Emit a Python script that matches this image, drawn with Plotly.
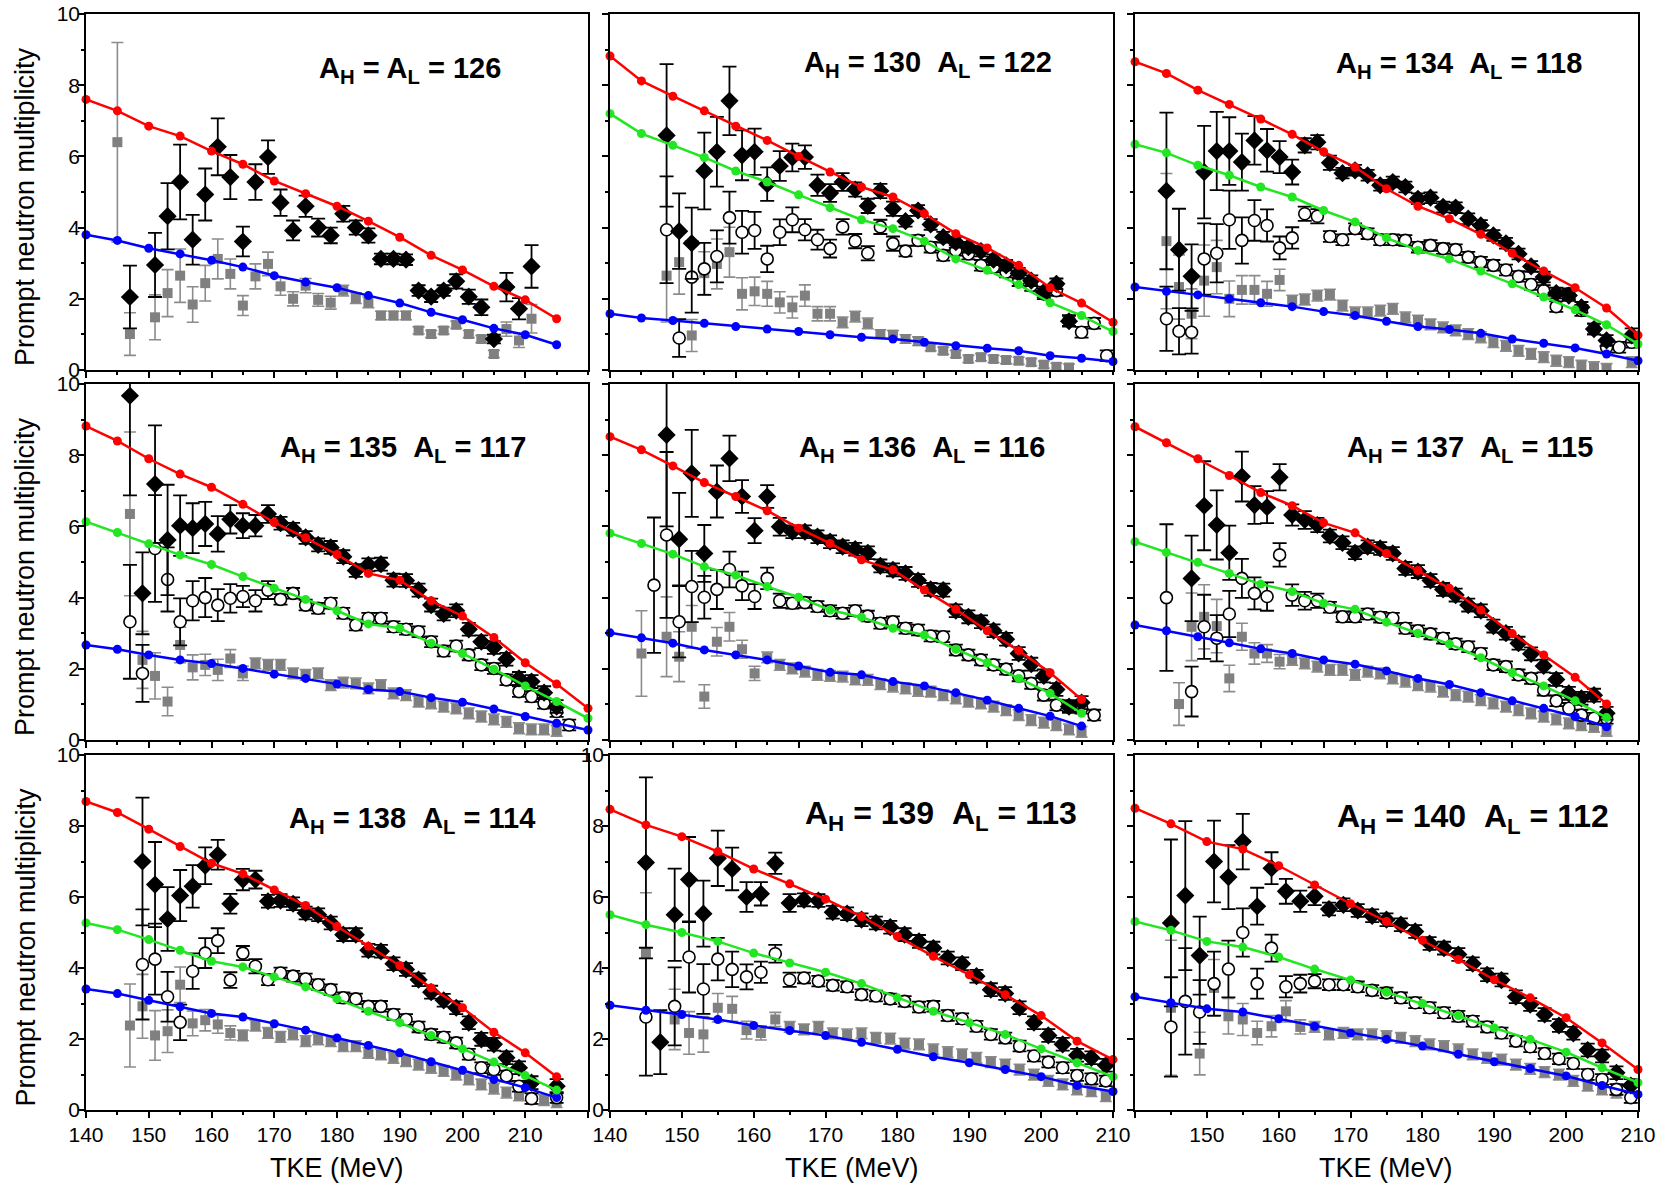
import plotly.graph_objects as go

# ---------------------------------------------------------------------------
# Prompt neutron multiplicity vs. total kinetic energy for nine mass splits.
# nu_tot : total (black diamonds), nu_L : light fragment (open circles),
# nu_H : heavy fragment (grey squares); CALC_* are the model curves.
# ---------------------------------------------------------------------------

# ---- A_H = A_L = 126 -------------------------------------------------------
TKE_126 = [145, 147, 151, 153, 155, 157, 159, 161, 163, 165, 167, 169, 171, 173, 175, 177,
           179, 181, 183, 185, 187, 189, 191, 193, 195, 197, 199, 201, 203, 205, 207, 209, 211]
NU_TOT_126 = [None, 2.05, 2.95, 4.32, 5.28, 3.66, 4.93, 6.27, 5.42, 3.61, 5.28, 5.98, 4.70, 3.92, 4.60, 4.00,
              3.78, 4.39, 4.00, 3.78, 3.12, 3.12, 3.10, 2.23, 2.06, 2.23, 2.49, 2.06, 1.76, 0.87, 2.33, 1.72, 2.91]
DNU_TOT_126 = [None, 0.88, 0.90, 0.93, 1.05, 0.70, 0.73, 0.80, 0.62, 0.42, 0.50, 0.47, 0.37, 0.28, 0.30, 0.25,
               0.22, 0.22, 0.20, 0.20, 0.15, 0.15, 0.15, 0.15, 0.15, 0.15, 0.20, 0.20, 0.22, 0.12, 0.40, 0.30, 0.60]
NU_H_126 = [6.40, 1.01, 1.48, 2.16, 2.65, 1.84, 2.44, 3.12, 2.70, 1.81, 2.63, 2.98, 2.35, 2.00, 2.37, 1.97,
            1.89, 2.23, 2.02, 1.90, 1.53, 1.53, 1.53, 1.11, 1.01, 1.11, 1.27, 1.01, 0.87, 0.45, 1.15, 0.83, 1.44]
DNU_H_126 = [2.80, 0.60, 0.63, 0.66, 0.75, 0.50, 0.50, 0.56, 0.42, 0.28, 0.35, 0.33, 0.25, 0.20, 0.20, 0.18,
             0.18, 0.15, 0.15, 0.15, 0.12, 0.12, 0.12, 0.10, 0.10, 0.10, 0.10, 0.10, 0.10, 0.10, 0.20, 0.20, 0.40]
CALC_TKE_126 = [140, 145, 150, 155, 160, 165, 170, 175, 180, 185, 190, 195, 200, 205, 210, 215]
CALC_TOT_126 = [7.60, 7.28, 6.85, 6.57, 6.15, 5.78, 5.31, 4.95, 4.60, 4.18, 3.73, 3.22, 2.81, 2.35, 1.97, 1.44]
CALC_H_126 = [3.80, 3.64, 3.42, 3.26, 3.08, 2.89, 2.65, 2.47, 2.31, 2.09, 1.88, 1.62, 1.41, 1.17, 0.99, 0.71]

# ---- A_H = 130, A_L = 122 ---------------------------------------------------
TKE_130 = [149, 151, 153, 155, 157, 159, 161, 163, 165, 167, 169, 171, 173, 175, 177, 179, 181, 183,
           185, 187, 189, 191, 193, 195, 197, 199, 201, 203, 205, 207, 209, 211, 213, 215, 217, 219]
NU_TOT_130 = [6.59, 3.90, 3.56, 5.59, 6.13, 7.56, 6.03, 6.13, 5.22, 5.73, 5.97, 5.98, 5.19, 4.97, 5.28, 5.07, 4.61, 5.03,
              4.53, 4.18, 4.48, 4.09, 3.73, 3.59, 3.45, 3.34, 3.10, 2.94, 2.72, 2.51, 2.19, 2.42, 1.37, None, None, None]
DNU_TOT_130 = [2.00, 1.06, 1.00, 1.08, 0.98, 0.96, 0.70, 0.65, 0.47, 0.42, 0.39, 0.33, 0.30, 0.25, 0.25, 0.20, 0.20, 0.20,
               0.20, 0.15, 0.15, 0.15, 0.15, 0.15, 0.15, 0.15, 0.15, 0.15, 0.15, 0.15, 0.15, 0.15, 0.15, None, None, None]
NU_L_130 = [3.94, 0.90, 2.61, 2.84, 3.19, 4.28, 3.87, 3.92, 3.12, 3.87, 4.22, 3.94, 3.66, 3.41, 4.02, 3.62, 3.28, 4.02,
            3.55, 3.34, 3.64, 3.45, 3.22, 3.36, 3.26, 2.94, 2.89, 2.75, 2.51, 2.37, 2.14, 2.23, 1.39, 1.06, 1.31, 0.40]
DNU_L_130 = [1.50, 0.53, 1.00, 0.73, 0.73, 0.73, 0.60, 0.52, 0.37, 0.36, 0.35, 0.30, 0.28, 0.25, 0.22, 0.20, 0.20, 0.20,
             0.20, 0.15, 0.15, 0.15, 0.15, 0.15, 0.15, 0.15, 0.15, 0.15, 0.15, 0.15, 0.15, 0.15, 0.15, 0.15, 0.15, 0.15]
NU_H_130 = [2.65, 3.03, 0.97, 2.72, 2.98, 3.31, 2.14, 2.21, 2.14, 1.90, 1.76, 2.09, 1.58, 1.58, 1.34, 1.50, 1.31, 1.01,
            0.99, 0.87, 0.81, 0.64, 0.54, 0.45, 0.31, 0.36, 0.31, 0.28, 0.26, 0.22, 0.15, 0.09, 0.07, None, None, None]
DNU_H_130 = [1.30, 0.90, 0.45, 0.60, 0.70, 0.70, 0.45, 0.40, 0.35, 0.30, 0.30, 0.30, 0.20, 0.20, 0.15, 0.15, 0.15, 0.12,
             0.12, 0.12, 0.12, 0.10, 0.10, 0.10, 0.10, 0.10, 0.10, 0.10, 0.10, 0.10, 0.10, 0.10, 0.10, None, None, None]
CALC_TKE_130 = [140, 145, 150, 155, 160, 165, 170, 175, 180, 185, 190, 195, 200, 205, 210, 215, 220]
CALC_TOT_130 = [8.82, 8.12, 7.69, 7.28, 6.85, 6.45, 6.00, 5.56, 5.14, 4.86, 4.39, 3.83, 3.43, 2.94, 2.31, 1.88, 1.34]
CALC_L_130 = [7.20, 6.64, 6.31, 5.97, 5.59, 5.28, 4.92, 4.56, 4.22, 3.97, 3.62, 3.12, 2.80, 2.40, 1.89, 1.53, 1.08]
CALC_H_130 = [1.58, 1.46, 1.39, 1.31, 1.22, 1.15, 1.08, 0.99, 0.92, 0.87, 0.78, 0.68, 0.61, 0.54, 0.40, 0.33, 0.24]

# ---- A_H = 134, A_L = 118 ---------------------------------------------------
TKE_134 = [145, 147, 149, 151, 153, 155, 157, 159, 161, 163, 165, 167, 169, 171, 173, 175, 177, 179, 181,
           183, 185, 187, 189, 191, 193, 195, 197, 199, 201, 203, 205, 207, 209, 211, 213, 215, 217, 219]
NU_TOT_134 = [5.03, 3.38, 2.63, 5.56, 6.15, 6.15, 5.84, 6.45, 6.17, 5.98, 5.56, 6.31, 6.40, 5.82, 5.53, 5.61, 5.47, 5.19, 5.28,
              5.14, 4.81, 4.84, 4.58, 4.56, 4.25, 4.06, 3.78, 3.56, 3.26, 2.91, 2.61, 2.16, 2.09, 1.76, 1.15, 0.83, None, 0.97]
DNU_TOT_134 = [2.20, 1.15, 0.90, 1.30, 1.10, 0.95, 0.80, 0.68, 0.60, 0.45, 0.35, 0.20, 0.20, 0.20, 0.15, 0.15, 0.15, 0.15, 0.15,
               0.15, 0.15, 0.15, 0.15, 0.15, 0.15, 0.15, 0.15, 0.15, 0.15, 0.15, 0.15, 0.15, 0.15, 0.15, 0.15, 0.15, None, 0.20]
NU_L_134 = [1.44, 1.09, 1.06, 3.12, 3.28, 4.22, 3.64, 4.20, 4.06, 3.43, 3.71, 4.39, 4.32, 3.75, 3.66, 3.97, 3.83, 3.66, 3.66,
            3.64, 3.45, 3.50, 3.41, 3.38, 3.17, 3.03, 2.94, 2.81, 2.63, 2.40, 2.23, 1.78, 2.14, 1.67, 1.15, 0.64, 0.64, 0.78]
DNU_L_134 = [0.90, 0.65, 0.60, 1.00, 0.82, 0.82, 0.65, 0.57, 0.45, 0.32, 0.30, 0.20, 0.20, 0.15, 0.15, 0.15, 0.15, 0.15, 0.15,
             0.15, 0.15, 0.15, 0.15, 0.15, 0.15, 0.15, 0.15, 0.15, 0.15, 0.15, 0.15, 0.15, 0.15, 0.15, 0.15, 0.15, 0.15, 0.15]
NU_H_134 = [3.62, 2.33, 1.58, 2.51, 2.89, 2.00, 2.25, 2.25, 2.14, 2.53, 1.95, 1.98, 2.09, 2.12, 1.81, 1.62, 1.62, 1.67, 1.72,
            1.48, 1.39, 1.28, 1.20, 1.11, 1.01, 0.92, 0.78, 0.68, 0.54, 0.45, 0.36, 0.26, 0.22, 0.12, 0.08, 0.03, None, 0.22]
DNU_H_134 = [1.90, 0.90, 0.70, 1.00, 0.75, 0.50, 0.40, 0.40, 0.35, 0.30, 0.15, 0.15, 0.15, 0.15, 0.15, 0.15, 0.15, 0.15, 0.15,
             0.15, 0.15, 0.15, 0.15, 0.15, 0.15, 0.15, 0.15, 0.15, 0.15, 0.15, 0.15, 0.15, 0.15, 0.15, 0.15, 0.15, None, 0.15]
CALC_TKE_134 = [140, 145, 150, 155, 160, 165, 170, 175, 180, 185, 190, 195, 200, 205, 210, 215, 220]
CALC_TOT_134 = [8.66, 8.33, 7.86, 7.46, 7.05, 6.62, 6.13, 5.70, 5.09, 4.60, 4.25, 3.81, 3.28, 2.78, 2.31, 1.74, 0.98]
CALC_L_134 = [6.34, 6.10, 5.75, 5.47, 5.14, 4.86, 4.48, 4.16, 3.71, 3.36, 3.12, 2.78, 2.42, 2.05, 1.69, 1.27, 0.73]
CALC_H_134 = [2.33, 2.21, 2.11, 2.00, 1.89, 1.78, 1.64, 1.53, 1.37, 1.22, 1.14, 1.03, 0.87, 0.75, 0.62, 0.45, 0.26]

# ---- A_H = 135, A_L = 117 ---------------------------------------------------
TKE_135 = [147, 149, 151, 153, 155, 157, 159, 161, 163, 165, 167, 169, 171, 173, 175, 177, 179, 181,
           183, 185, 187, 189, 191, 193, 195, 197, 199, 201, 203, 205, 207, 209, 211, 213, 215, 217]
NU_TOT_135 = [9.67, 4.12, 7.19, 5.62, 6.02, 5.95, 6.07, 5.79, 6.20, 6.02, 6.02, 6.35, 6.09, 5.92, 5.69, 5.48, 5.41, 5.15,
              4.76, 4.92, 4.94, 4.49, 4.48, 4.21, 3.79, 3.54, 3.63, 3.11, 2.76, 2.60, 2.27, 1.73, 1.64, 1.33, 0.94, None]
DNU_TOT_135 = [2.80, 1.15, 1.65, 1.55, 0.85, 0.70, 0.62, 0.50, 0.40, 0.35, 0.30, 0.25, 0.18, 0.18, 0.18, 0.18, 0.18, 0.18,
               0.18, 0.18, 0.18, 0.18, 0.18, 0.18, 0.18, 0.18, 0.18, 0.18, 0.18, 0.18, 0.18, 0.18, 0.18, 0.18, 0.18, None]
NU_L_135 = [3.32, 1.87, 5.38, 4.51, 3.32, 3.91, 4.00, 3.79, 3.98, 4.03, 3.91, 4.21, 3.95, 4.12, 3.79, 3.70, 3.84, 3.56,
            3.23, 3.42, 3.42, 3.18, 3.11, 3.04, 2.76, 2.50, 2.64, 2.39, 2.11, 2.01, 1.69, 1.36, 1.22, 1.03, 0.80, 0.42]
DNU_L_135 = [1.60, 0.80, 1.50, 0.90, 0.66, 0.55, 0.55, 0.45, 0.40, 0.30, 0.30, 0.25, 0.15, 0.15, 0.15, 0.15, 0.15, 0.15,
             0.15, 0.15, 0.15, 0.15, 0.15, 0.15, 0.15, 0.15, 0.15, 0.15, 0.15, 0.15, 0.15, 0.15, 0.15, 0.15, 0.15, 0.15]
NU_H_135 = [6.35, 2.25, 1.80, 1.08, 2.67, 2.04, 2.11, 1.97, 2.29, 1.87, 2.15, 2.11, 2.11, 1.87, 1.83, 1.87, 1.54, 1.61,
            1.59, 1.45, 1.54, 1.31, 1.26, 1.08, 1.03, 0.94, 0.89, 0.75, 0.66, 0.58, 0.51, 0.33, 0.30, 0.30, 0.26, None]
DNU_H_135 = [2.30, 0.80, 0.65, 0.40, 0.50, 0.35, 0.30, 0.30, 0.25, 0.20, 0.15, 0.15, 0.15, 0.15, 0.15, 0.15, 0.15, 0.15,
             0.15, 0.15, 0.15, 0.15, 0.15, 0.15, 0.15, 0.15, 0.15, 0.15, 0.15, 0.15, 0.15, 0.15, 0.15, 0.15, 0.15, None]
CALC_TKE_135 = [140, 145, 150, 155, 160, 165, 170, 175, 180, 185, 190, 195, 200, 205, 210, 215, 220]
CALC_TOT_135 = [8.82, 8.40, 7.90, 7.47, 7.10, 6.62, 6.11, 5.68, 5.21, 4.68, 4.49, 3.91, 3.48, 2.88, 2.17, 1.57, 0.89]
CALC_L_135 = [6.13, 5.83, 5.51, 5.20, 4.93, 4.59, 4.26, 3.95, 3.63, 3.26, 3.14, 2.72, 2.43, 1.99, 1.52, 1.08, 0.61]
CALC_H_135 = [2.67, 2.55, 2.39, 2.25, 2.15, 2.01, 1.85, 1.73, 1.57, 1.42, 1.36, 1.19, 1.06, 0.87, 0.66, 0.47, 0.28]

# ---- A_H = 136, A_L = 116 ---------------------------------------------------
TKE_136 = [145, 147, 149, 151, 153, 155, 157, 159, 161, 163, 165, 167, 169, 171, 173, 175, 177, 179, 181,
           183, 185, 187, 189, 191, 193, 195, 197, 199, 201, 203, 205, 207, 209, 211, 213, 215, 217]
NU_TOT_136 = [None, None, 8.57, 5.64, 7.49, 5.24, 6.98, 7.91, 6.84, 5.88, 6.84, 5.99, 5.85, 5.85, 5.71, 5.57, 5.43, 5.36, 5.26,
              4.89, 4.78, 4.68, 4.48, 4.23, 4.21, 3.63, 3.46, 3.32, 3.07, 2.83, 2.43, 2.13, 1.80, 1.42, 0.94, 1.05, None]
DNU_TOT_136 = [None, None, 2.57, 1.30, 1.22, 0.80, 0.73, 0.64, 0.46, 0.35, 0.32, 0.25, 0.18, 0.18, 0.18, 0.18, 0.18, 0.18, 0.18,
               0.18, 0.18, 0.18, 0.18, 0.18, 0.18, 0.18, 0.18, 0.18, 0.18, 0.18, 0.18, 0.18, 0.18, 0.18, 0.18, 0.18, None]
NU_L_136 = [None, 4.35, 5.76, 3.32, 4.31, 4.01, 4.23, 4.79, 4.33, 4.03, 4.54, 3.91, 3.84, 3.86, 3.75, 3.63, 3.56, 3.63, 3.48,
            3.28, 3.32, 3.14, 3.09, 2.92, 2.90, 2.53, 2.39, 2.25, 2.11, 1.99, 1.80, 1.59, 1.26, 0.98, 0.94, 0.89, 0.70]
DNU_L_136 = [None, 1.90, 2.33, 1.00, 1.00, 0.60, 0.55, 0.50, 0.40, 0.35, 0.30, 0.20, 0.15, 0.15, 0.15, 0.15, 0.15, 0.15, 0.15,
             0.15, 0.15, 0.15, 0.15, 0.15, 0.15, 0.15, 0.15, 0.15, 0.15, 0.15, 0.15, 0.15, 0.15, 0.15, 0.15, 0.15, 0.15]
NU_H_136 = [2.43, None, 2.90, 2.34, 3.18, 1.22, 2.76, 3.18, 2.55, 1.87, 2.32, 2.11, 2.01, 1.92, 1.83, 1.80, 1.78, 1.70, 1.69,
            1.57, 1.50, 1.45, 1.38, 1.36, 1.26, 1.17, 1.08, 1.03, 0.94, 0.84, 0.70, 0.56, 0.49, 0.42, 0.30, 0.23, None]
DNU_H_136 = [1.20, None, 1.12, 0.70, 0.60, 0.33, 0.40, 0.40, 0.25, 0.20, 0.15, 0.15, 0.15, 0.15, 0.15, 0.15, 0.15, 0.15, 0.15,
             0.15, 0.15, 0.15, 0.15, 0.15, 0.15, 0.15, 0.15, 0.15, 0.15, 0.15, 0.15, 0.15, 0.15, 0.15, 0.15, 0.15, None]
CALC_TKE_136 = [140, 145, 150, 155, 160, 165, 170, 175, 180, 185, 190, 195, 200, 205, 210, 215]
CALC_TOT_136 = [8.52, 8.15, 7.70, 7.23, 6.84, 6.44, 5.95, 5.52, 5.06, 4.78, 4.21, 3.67, 3.07, 2.51, 1.89, 1.14]
CALC_L_136 = [5.81, 5.52, 5.22, 4.87, 4.63, 4.31, 4.01, 3.65, 3.45, 3.14, 2.95, 2.55, 2.17, 1.73, 1.31, 0.75]
CALC_H_136 = [3.01, 2.87, 2.72, 2.53, 2.39, 2.25, 2.08, 1.90, 1.83, 1.64, 1.52, 1.33, 1.12, 0.89, 0.67, 0.39]

# ---- A_H = 137, A_L = 115 ---------------------------------------------------
TKE_137 = [145, 147, 149, 151, 153, 155, 157, 159, 161, 163, 165, 167, 169, 171, 173, 175, 177, 179,
           181, 183, 185, 187, 189, 191, 193, 195, 197, 199, 201, 203, 205, 207, 209, 211, 213, 215]
NU_TOT_137 = [None, None, 4.54, 6.58, 6.04, 5.26, 7.40, 6.60, 6.54, 7.38, 6.32, 6.18, 6.04, 5.73, 5.54, 5.26, 5.43, 5.38,
              5.24, 4.82, 4.73, 4.48, 4.23, 4.07, 3.79, 3.63, 3.20, 3.00, 2.72, 2.42, 2.08, 1.70, 1.31, 1.17, 1.26, 0.75]
DNU_TOT_137 = [None, None, 1.20, 1.25, 0.97, 0.76, 0.70, 0.53, 0.45, 0.37, 0.30, 0.25, 0.20, 0.18, 0.18, 0.18, 0.18, 0.18,
               0.18, 0.18, 0.18, 0.18, 0.18, 0.18, 0.18, 0.18, 0.18, 0.18, 0.18, 0.18, 0.18, 0.18, 0.18, 0.18, 0.18, 0.18]
NU_L_137 = [4.00, None, 1.36, 3.18, 2.86, 3.54, 4.54, 4.12, 4.03, 5.20, 4.07, 3.91, 3.91, 3.73, 3.46, 3.46, 3.54, 3.45,
            3.42, 3.14, 3.07, 2.98, 2.86, 2.70, 2.62, 2.43, 2.11, 2.06, 1.83, 1.73, 1.40, 1.10, 0.89, 0.70, 0.61, 0.61]
DNU_L_137 = [2.06, None, 0.70, 0.90, 0.65, 0.65, 0.55, 0.45, 0.40, 0.33, 0.30, 0.25, 0.20, 0.15, 0.15, 0.15, 0.15, 0.15,
             0.15, 0.15, 0.15, 0.15, 0.15, 0.15, 0.15, 0.15, 0.15, 0.15, 0.15, 0.15, 0.15, 0.15, 0.15, 0.15, 0.15, 0.15]
NU_H_137 = [None, 1.01, 3.18, 3.46, 3.20, 1.73, 2.90, 2.43, 2.43, 2.20, 2.25, 2.15, 2.06, 1.97, 1.97, 1.83, 1.92, 1.87,
            1.73, 1.64, 1.54, 1.50, 1.36, 1.26, 1.22, 1.12, 1.03, 0.94, 0.84, 0.75, 0.66, 0.58, 0.47, 0.42, 0.37, 0.26]
DNU_H_137 = [None, 0.60, 0.95, 0.90, 0.75, 0.37, 0.38, 0.30, 0.25, 0.20, 0.15, 0.15, 0.15, 0.15, 0.15, 0.15, 0.15, 0.15,
             0.15, 0.15, 0.15, 0.15, 0.15, 0.15, 0.15, 0.15, 0.15, 0.15, 0.15, 0.15, 0.15, 0.15, 0.15, 0.15, 0.15, 0.15]
CALC_TKE_137 = [140, 145, 150, 155, 160, 165, 170, 175, 180, 185, 190, 195, 200, 205, 210, 215]
CALC_TOT_137 = [8.80, 8.35, 7.90, 7.43, 6.95, 6.58, 6.10, 5.82, 5.24, 4.76, 4.26, 3.65, 2.99, 2.39, 1.76, 1.01]
CALC_L_137 = [5.57, 5.27, 4.99, 4.68, 4.38, 4.17, 3.84, 3.67, 3.31, 3.00, 2.70, 2.31, 1.89, 1.52, 1.10, 0.63]
CALC_H_137 = [3.23, 3.07, 2.90, 2.73, 2.56, 2.43, 2.25, 2.13, 1.94, 1.73, 1.56, 1.33, 1.10, 0.89, 0.66, 0.37]

# ---- A_H = 138, A_L = 114 ---------------------------------------------------
TKE_138 = [147, 149, 151, 153, 155, 157, 159, 161, 163, 165, 167, 169, 171, 173, 175, 177, 179, 181,
           183, 185, 187, 189, 191, 193, 195, 197, 199, 201, 203, 205, 207, 209, 211, 213, 215]
NU_TOT_138 = [None, 7.00, 6.35, 5.38, 6.04, 6.30, 6.88, 7.19, 5.81, 6.49, 6.49, 5.88, 5.90, 5.81, 5.55, 5.50, 5.27, 4.94,
              4.94, 4.50, 4.47, 4.12, 3.96, 3.67, 3.32, 3.09, 2.88, 2.46, 1.99, 1.85, 1.47, 1.19, 0.77, None, 0.67]
DNU_TOT_138 = [None, 1.80, 1.20, 0.90, 0.72, 0.60, 0.52, 0.42, 0.28, 0.30, 0.25, 0.18, 0.18, 0.18, 0.18, 0.18, 0.18, 0.18,
               0.18, 0.18, 0.18, 0.18, 0.18, 0.18, 0.18, 0.18, 0.18, 0.18, 0.18, 0.18, 0.18, 0.18, 0.18, None, 0.20]
NU_L_138 = [None, 4.10, 4.25, 3.19, 2.47, 3.91, 4.42, 4.77, 3.66, 4.42, 4.05, 3.67, 3.86, 3.77, 3.69, 3.53, 3.39, 3.16,
            3.13, 2.92, 2.92, 2.69, 2.55, 2.34, 2.13, 2.05, 1.89, 1.57, 1.19, 1.14, 0.96, 0.67, 0.32, None, 0.35]
DNU_L_138 = [None, 1.55, 1.00, 0.70, 0.50, 0.50, 0.42, 0.35, 0.22, 0.20, 0.20, 0.15, 0.15, 0.15, 0.15, 0.15, 0.15, 0.15,
             0.15, 0.15, 0.15, 0.15, 0.15, 0.15, 0.15, 0.15, 0.15, 0.15, 0.15, 0.15, 0.15, 0.15, 0.15, None, 0.15]
NU_H_138 = [2.38, 2.92, 2.10, 2.22, 3.53, 2.44, 2.53, 2.41, 2.17, 2.10, 2.38, 2.17, 2.06, 2.13, 1.94, 1.99, 1.94, 1.80,
            1.80, 1.61, 1.57, 1.47, 1.38, 1.28, 1.19, 1.10, 1.00, 0.86, 0.72, 0.60, 0.49, 0.41, 0.32, 0.28, 0.22]
DNU_H_138 = [1.17, 0.90, 0.70, 0.60, 0.50, 0.35, 0.30, 0.25, 0.20, 0.15, 0.15, 0.15, 0.15, 0.15, 0.15, 0.15, 0.15, 0.15,
             0.15, 0.15, 0.15, 0.15, 0.15, 0.15, 0.15, 0.15, 0.15, 0.15, 0.15, 0.15, 0.15, 0.15, 0.15, 0.15, 0.15]
CALC_TKE_138 = [140, 145, 150, 155, 160, 165, 170, 175, 180, 185, 190, 195, 200, 205, 210, 215]
CALC_TOT_138 = [8.69, 8.38, 7.91, 7.42, 6.95, 6.65, 6.20, 5.76, 5.17, 4.61, 4.07, 3.44, 2.88, 2.19, 1.61, 0.94]
CALC_L_138 = [5.27, 5.08, 4.80, 4.50, 4.19, 4.03, 3.75, 3.47, 3.13, 2.78, 2.46, 2.10, 1.72, 1.35, 0.97, 0.56]
CALC_H_138 = [3.41, 3.28, 3.09, 2.91, 2.72, 2.62, 2.43, 2.25, 2.03, 1.82, 1.61, 1.36, 1.12, 0.86, 0.63, 0.35]

# ---- A_H = 139, A_L = 113 ---------------------------------------------------
TKE_139 = [145, 147, 149, 151, 153, 155, 157, 159, 161, 163, 165, 167, 169, 171, 173, 175, 177,
           179, 181, 183, 185, 187, 189, 191, 193, 195, 197, 199, 201, 203, 205, 207, 209]
NU_TOT_139 = [6.97, 1.91, 5.50, 6.49, 5.53, 7.09, 6.79, 6.00, 6.09, 6.95, 5.83, 5.92, 5.90, 5.57, 5.53, 5.36, 5.27,
              5.15, 4.94, 4.75, 4.56, 4.28, 4.12, 3.77, 3.39, 3.28, 2.88, 2.46, 2.10, 1.85, 1.54, 1.47, 1.26]
DNU_TOT_139 = [2.40, 0.90, 1.30, 1.20, 0.93, 0.78, 0.60, 0.42, 0.33, 0.30, 0.25, 0.18, 0.18, 0.18, 0.18, 0.18, 0.18,
               0.18, 0.18, 0.18, 0.18, 0.18, 0.18, 0.18, 0.18, 0.18, 0.18, 0.18, 0.18, 0.18, 0.18, 0.18, 0.18]
NU_L_139 = [2.62, None, 2.92, 4.31, 3.41, 4.25, 3.96, 3.75, 3.88, 4.40, 3.67, 3.72, 3.63, 3.51, 3.47, 3.25, 3.21,
            3.13, 3.06, 2.90, 2.92, 2.66, 2.57, 2.36, 2.13, 2.03, 1.80, 1.52, 1.35, 1.19, 0.97, 0.88, 0.82]
DNU_L_139 = [1.65, None, 1.10, 1.00, 0.70, 0.60, 0.50, 0.35, 0.30, 0.25, 0.20, 0.15, 0.15, 0.15, 0.15, 0.15, 0.15,
             0.15, 0.15, 0.15, 0.15, 0.15, 0.15, 0.15, 0.15, 0.15, 0.15, 0.15, 0.15, 0.15, 0.15, 0.15, 0.15]
NU_H_139 = [4.42, None, 2.55, 2.17, 2.13, 2.88, 2.85, 2.25, 2.17, 2.55, 2.34, 2.27, 2.34, 2.16, 2.13, 2.16, 2.03,
            2.01, 1.87, 1.85, 1.71, 1.63, 1.57, 1.47, 1.35, 1.28, 1.14, 1.00, 0.82, 0.72, 0.58, 0.53, 0.39]
DNU_H_139 = [1.70, None, 0.85, 0.60, 0.50, 0.40, 0.35, 0.25, 0.20, 0.20, 0.15, 0.15, 0.15, 0.15, 0.15, 0.15, 0.15,
             0.15, 0.15, 0.15, 0.15, 0.15, 0.15, 0.15, 0.15, 0.15, 0.15, 0.15, 0.15, 0.15, 0.15, 0.15, 0.15]
CALC_TKE_139 = [140, 145, 150, 155, 160, 165, 170, 175, 180, 185, 190, 195, 200, 205, 210]
CALC_TOT_139 = [8.47, 8.03, 7.70, 7.28, 6.79, 6.37, 5.94, 5.45, 4.89, 4.33, 3.81, 3.25, 2.66, 1.94, 1.42]
CALC_L_139 = [5.50, 5.22, 5.00, 4.75, 4.42, 4.14, 3.88, 3.56, 3.16, 2.78, 2.46, 2.13, 1.72, 1.33, 0.94]
CALC_H_139 = [2.95, 2.81, 2.69, 2.55, 2.38, 2.24, 2.10, 1.91, 1.71, 1.50, 1.33, 1.14, 0.94, 0.69, 0.52]

# ---- A_H = 140, A_L = 112 ---------------------------------------------------
TKE_140 = [145, 147, 149, 151, 153, 155, 157, 159, 161, 163, 165, 167, 169, 171, 173, 175, 177,
           179, 181, 183, 185, 187, 189, 191, 193, 195, 197, 199, 201, 203, 205, 207, 209]
NU_TOT_140 = [5.27, 6.04, 4.35, 7.00, 6.56, 7.56, 5.74, 6.81, 6.16, 5.88, 6.02, 5.66, 5.78, 5.62, 5.47, 5.36, 5.22,
              5.03, 4.69, 4.56, 4.38, 4.12, 3.81, 3.66, 3.19, 2.97, 2.69, 2.38, 2.16, 1.69, 1.52, 1.05, 0.69]
DNU_TOT_140 = [2.35, 2.10, 1.10, 1.15, 0.90, 0.78, 0.52, 0.45, 0.35, 0.30, 0.25, 0.18, 0.18, 0.18, 0.18, 0.18, 0.18,
               0.18, 0.18, 0.18, 0.18, 0.18, 0.18, 0.18, 0.18, 0.18, 0.18, 0.18, 0.18, 0.18, 0.18, 0.18, 0.18]
NU_L_140 = [2.34, 3.06, 2.76, 3.56, 3.97, 5.00, 3.56, 4.56, 3.47, 3.56, 3.63, 3.53, 3.53, 3.47, 3.37, 3.30, 3.16,
            3.02, 2.88, 2.74, 2.64, 2.50, 2.34, 2.17, 1.94, 1.78, 1.59, 1.44, 1.31, 1.00, 0.86, 0.58, 0.35]
DNU_L_140 = [1.40, 1.50, 0.90, 0.90, 0.80, 0.68, 0.42, 0.38, 0.30, 0.25, 0.20, 0.15, 0.15, 0.15, 0.15, 0.15, 0.15,
             0.15, 0.15, 0.15, 0.15, 0.15, 0.15, 0.15, 0.15, 0.15, 0.15, 0.15, 0.15, 0.15, 0.15, 0.15, 0.15]
NU_H_140 = [2.88, None, 1.59, 3.44, 2.64, 2.55, 2.17, 2.36, 2.78, 2.34, 2.34, 2.13, 2.17, 2.13, 2.13, 2.08, 2.03,
            1.94, 1.85, 1.80, 1.71, 1.57, 1.47, 1.42, 1.28, 1.16, 1.07, 1.00, 0.82, 0.69, 0.58, 0.49, 0.35]
DNU_H_140 = [1.90, None, 0.60, 0.80, 0.50, 0.45, 0.33, 0.30, 0.30, 0.20, 0.15, 0.15, 0.15, 0.15, 0.15, 0.15, 0.15,
             0.15, 0.15, 0.15, 0.15, 0.15, 0.15, 0.15, 0.15, 0.15, 0.15, 0.15, 0.15, 0.15, 0.15, 0.15, 0.15]
CALC_TKE_140 = [140, 145, 150, 155, 160, 165, 170, 175, 180, 185, 190, 195, 200, 205, 210]
CALC_TOT_140 = [8.50, 8.06, 7.56, 7.35, 6.88, 6.34, 5.81, 5.31, 4.78, 4.24, 3.67, 3.16, 2.60, 1.89, 1.14]
CALC_L_140 = [5.31, 5.06, 4.75, 4.59, 4.31, 3.97, 3.66, 3.32, 3.00, 2.66, 2.31, 1.99, 1.63, 1.19, 0.77]
CALC_H_140 = [3.19, 3.02, 2.85, 2.76, 2.57, 2.36, 2.17, 1.99, 1.80, 1.57, 1.36, 1.17, 0.96, 0.69, 0.44]

# Panel titles (mass split) and TKE axis extents
LABELS = [
    "A<sub>H</sub> = A<sub>L</sub> = 126",
    "A<sub>H</sub> = 130\u00a0\u00a0A<sub>L</sub> = 122",
    "A<sub>H</sub> = 134\u00a0\u00a0A<sub>L</sub> = 118",
    "A<sub>H</sub> = 135\u00a0\u00a0A<sub>L</sub> = 117",
    "A<sub>H</sub> = 136\u00a0\u00a0A<sub>L</sub> = 116",
    "A<sub>H</sub> = 137\u00a0\u00a0A<sub>L</sub> = 115",
    "A<sub>H</sub> = 138\u00a0\u00a0A<sub>L</sub> = 114",
    "A<sub>H</sub> = 139\u00a0\u00a0A<sub>L</sub> = 113",
    "A<sub>H</sub> = 140\u00a0\u00a0A<sub>L</sub> = 112",
]
TKE_RANGES = [[140, 220], [140, 220], [140, 220],
              [140, 220], [140, 220], [140, 220],
              [140, 220], [140, 210], [140, 210]]
X_TICKS = [140, 150, 160, 170, 180, 190, 200, 210, 220]
Y_TICKS = [0, 2, 4, 6, 8, 10]
X_TITLE = "TKE (MeV)"
Y_TITLE = "Prompt neutron multiplicity"

PANELS = [
    dict(tke=TKE_126, tot=NU_TOT_126, dtot=DNU_TOT_126, lt=None, dlt=None, hv=NU_H_126, dhv=DNU_H_126,
         ctke=CALC_TKE_126, ctot=CALC_TOT_126, clt=None, chv=CALC_H_126),
    dict(tke=TKE_130, tot=NU_TOT_130, dtot=DNU_TOT_130, lt=NU_L_130, dlt=DNU_L_130, hv=NU_H_130, dhv=DNU_H_130,
         ctke=CALC_TKE_130, ctot=CALC_TOT_130, clt=CALC_L_130, chv=CALC_H_130),
    dict(tke=TKE_134, tot=NU_TOT_134, dtot=DNU_TOT_134, lt=NU_L_134, dlt=DNU_L_134, hv=NU_H_134, dhv=DNU_H_134,
         ctke=CALC_TKE_134, ctot=CALC_TOT_134, clt=CALC_L_134, chv=CALC_H_134),
    dict(tke=TKE_135, tot=NU_TOT_135, dtot=DNU_TOT_135, lt=NU_L_135, dlt=DNU_L_135, hv=NU_H_135, dhv=DNU_H_135,
         ctke=CALC_TKE_135, ctot=CALC_TOT_135, clt=CALC_L_135, chv=CALC_H_135),
    dict(tke=TKE_136, tot=NU_TOT_136, dtot=DNU_TOT_136, lt=NU_L_136, dlt=DNU_L_136, hv=NU_H_136, dhv=DNU_H_136,
         ctke=CALC_TKE_136, ctot=CALC_TOT_136, clt=CALC_L_136, chv=CALC_H_136),
    dict(tke=TKE_137, tot=NU_TOT_137, dtot=DNU_TOT_137, lt=NU_L_137, dlt=DNU_L_137, hv=NU_H_137, dhv=DNU_H_137,
         ctke=CALC_TKE_137, ctot=CALC_TOT_137, clt=CALC_L_137, chv=CALC_H_137),
    dict(tke=TKE_138, tot=NU_TOT_138, dtot=DNU_TOT_138, lt=NU_L_138, dlt=DNU_L_138, hv=NU_H_138, dhv=DNU_H_138,
         ctke=CALC_TKE_138, ctot=CALC_TOT_138, clt=CALC_L_138, chv=CALC_H_138),
    dict(tke=TKE_139, tot=NU_TOT_139, dtot=DNU_TOT_139, lt=NU_L_139, dlt=DNU_L_139, hv=NU_H_139, dhv=DNU_H_139,
         ctke=CALC_TKE_139, ctot=CALC_TOT_139, clt=CALC_L_139, chv=CALC_H_139),
    dict(tke=TKE_140, tot=NU_TOT_140, dtot=DNU_TOT_140, lt=NU_L_140, dlt=DNU_L_140, hv=NU_H_140, dhv=DNU_H_140,
         ctke=CALC_TKE_140, ctot=CALC_TOT_140, clt=CALC_L_140, chv=CALC_H_140),
]

# ---- styling ---------------------------------------------------------------
W, H = 1671, 1185
FONT = "Liberation Sans, Arial, Helvetica, sans-serif"
RED, GREEN, BLUE = "#ff0000", "#22e622", "#0000ff"
GREY = "#808080"

# panel boxes in pixels: columns (left, right) and rows (top, bottom)
COLS_PX = [(86, 588), (610, 1113), (1135, 1638)]
ROWS_PX = [(14, 370), (384, 740), (755, 1110)]
# label anchor (pixel centre) for each panel, and font size
LABEL_POS = [(410, 70), (928, 64), (1459, 65),
             (403, 449), (922, 449), (1470, 449),
             (412, 820), (941, 815), (1473, 818)]
LABEL_SIZE = [29, 29, 29, 29, 29, 29, 29, 32, 32]


def px_x(v):
    return v / W


def px_y(v):
    return 1 - v / H


def valid(x, y, e):
    keep = [i for i, v in enumerate(y) if v is not None]
    return ([x[i] for i in keep], [y[i] for i in keep],
            [e[i] if e[i] is not None else 0 for i in keep])


fig = go.Figure()
layout = dict(width=W, height=H, margin=dict(l=0, r=0, t=0, b=0, pad=0, autoexpand=False),
              paper_bgcolor="white", plot_bgcolor="white", showlegend=False,
              font=dict(family=FONT, color="black"))
annotations = []

for i, p in enumerate(PANELS):
    n = i + 1
    r, c = divmod(i, 3)
    xa, ya = f"x{n}", f"y{n}"

    # grey squares: heavy fragment
    x, y, e = valid(p["tke"], p["hv"], p["dhv"])
    fig.add_trace(go.Scatter(
        x=x, y=y, xaxis=xa, yaxis=ya, mode="markers",
        marker=dict(symbol="square", size=10, color=GREY, line=dict(width=0)),
        error_y=dict(type="data", array=e, visible=True, color="#8c8c8c", thickness=1.6, width=6)))

    # open circles: light fragment
    if p["lt"] is not None:
        x, y, e = valid(p["tke"], p["lt"], p["dlt"])
        fig.add_trace(go.Scatter(
            x=x, y=y, xaxis=xa, yaxis=ya, mode="markers",
            marker=dict(symbol="circle", size=12, color="white", line=dict(width=1.6, color="black")),
            error_y=dict(type="data", array=e, visible=True, color="black", thickness=1.8, width=7)))

    # black diamonds: total
    x, y, e = valid(p["tke"], p["tot"], p["dtot"])
    fig.add_trace(go.Scatter(
        x=x, y=y, xaxis=xa, yaxis=ya, mode="markers",
        marker=dict(symbol="diamond", size=14, color="black", line=dict(width=0)),
        error_y=dict(type="data", array=e, visible=True, color="black", thickness=1.8, width=7)))

    # model curves
    for key, col in (("chv", BLUE), ("clt", GREEN), ("ctot", RED)):
        if p[key] is None:
            continue
        fig.add_trace(go.Scatter(
            x=p["ctke"], y=p[key], xaxis=xa, yaxis=ya, mode="lines+markers",
            line=dict(color=col, width=2.5), marker=dict(color=col, size=9),
            cliponaxis=False))

    x0, x1 = COLS_PX[c]
    y0, y1 = ROWS_PX[r]
    xdom = [px_x(x0), px_x(x1)]
    ydom = [px_y(y1), px_y(y0)]
    rng = TKE_RANGES[i]

    show_x = r == 2
    show_y = c == 0 or (r == 2 and c == 1)
    xtext = [str(t) if (t <= 210 and not (c == 2 and t == 140)) else "" for t in X_TICKS]

    axis_common = dict(showgrid=False, zeroline=False, showline=True, linecolor="black", linewidth=1.5,
                       mirror=True, ticks="outside", ticklen=6, tickwidth=1.5, tickcolor="black",
                       automargin=False, tickfont=dict(family=FONT, size=21, color="black"))
    layout[f"xaxis{n}"] = dict(domain=xdom, range=rng, anchor=ya, tickmode="array",
                               tickvals=X_TICKS, ticktext=xtext, showticklabels=show_x,
                               ticklabelstandoff=-1,
                               minor=dict(dtick=5, tick0=140, ticks="outside", ticklen=3,
                                          tickwidth=1.5, tickcolor="black"),
                               **axis_common)
    layout[f"yaxis{n}"] = dict(domain=ydom, range=[0, 10], anchor=xa, tickmode="array",
                               tickvals=Y_TICKS, ticktext=[str(t) for t in Y_TICKS], showticklabels=show_y,
                               ticklabelstandoff=-6,
                               minor=dict(dtick=1, tick0=0, ticks="outside", ticklen=3,
                                          tickwidth=1.5, tickcolor="black"),
                               **axis_common)
    # inward-pointing ticks on the top and right edges
    inner = dict(showgrid=False, zeroline=False, showline=False, showticklabels=False, automargin=False,
                 ticks="inside", ticklen=6, tickwidth=1.5, tickcolor="black")
    layout[f"xaxis{n + 9}"] = dict(overlaying=xa, side="top", anchor=ya, range=rng, tickmode="array",
                                   tickvals=X_TICKS,
                                   minor=dict(dtick=5, tick0=140, ticks="inside", ticklen=3,
                                              tickwidth=1.5, tickcolor="black"), **inner)
    layout[f"yaxis{n + 9}"] = dict(overlaying=ya, side="right", anchor=xa, range=[0, 10], tickmode="array",
                                   tickvals=Y_TICKS,
                                   minor=dict(dtick=1, tick0=0, ticks="inside", ticklen=3,
                                              tickwidth=1.5, tickcolor="black"), **inner)

    lx, ly = LABEL_POS[i]
    annotations.append(dict(text=f"<b>{LABELS[i]}</b>", x=px_x(lx), y=px_y(ly), xref="paper", yref="paper",
                            xanchor="center", yanchor="middle", showarrow=False,
                            font=dict(family=FONT, size=LABEL_SIZE[i], color="black")))

    if c == 0:
        annotations.append(dict(text=Y_TITLE, x=px_x(25), y=px_y((y0 + y1) / 2 + 15), xref="paper", yref="paper",
                                xanchor="center", yanchor="middle", textangle=-90, showarrow=False,
                                font=dict(family=FONT, size=27, color="black")))
    if r == 2:
        cx = {0: 337, 1: 852, 2: 1386}[c]
        annotations.append(dict(text=X_TITLE, x=px_x(cx), y=px_y(1168), xref="paper", yref="paper",
                                xanchor="center", yanchor="middle", showarrow=False,
                                font=dict(family=FONT, size=27, color="black")))

layout["annotations"] = annotations
fig.update_layout(**layout)
fig.write_html("out.html")
